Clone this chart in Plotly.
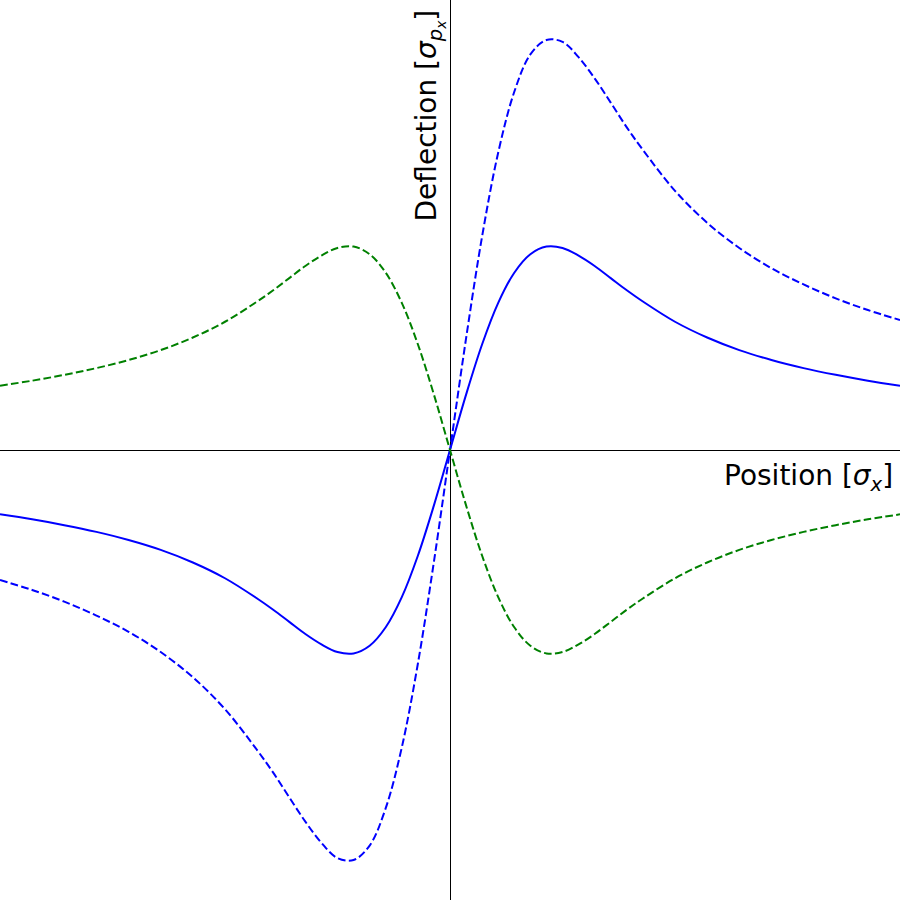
import plotly.graph_objects as go

# Position in units of sigma_x
position = [-7, -6.5, -6, -5.5, -5, -4.5, -4, -3.5, -3, -2.75, -2.5, -2.25, -2, -1.75, -1.5,
            -1.25, -1, -0.75, -0.5, -0.25, 0, 0.25, 0.5, 0.75, 1, 1.25, 1.5, 1.75, 2, 2.25,
            2.5, 2.75, 3, 3.5, 4, 4.5, 5, 5.5, 6, 6.5, 7]

# Deflection curves
deflection_solid = [-0.143, -0.154, -0.167, -0.182, -0.200, -0.222, -0.250, -0.285, -0.330, -0.355,
                    -0.382, -0.409, -0.432, -0.449, -0.452, -0.435, -0.394, -0.327, -0.235,
                    -0.123, 0.0, 0.123, 0.235, 0.327, 0.394, 0.435, 0.452, 0.449, 0.432, 0.409,
                    0.382, 0.355, 0.330, 0.285, 0.250, 0.222, 0.200, 0.182, 0.167, 0.154, 0.143]
deflection_dashed = [-0.289, -0.311, -0.337, -0.368, -0.404, -0.449, -0.505, -0.576, -0.667, -0.717,
                     -0.772, -0.826, -0.873, -0.907, -0.911, -0.879, -0.796, -0.661, -0.475,
                     -0.248, 0.0, 0.248, 0.475, 0.661, 0.796, 0.879, 0.911, 0.907, 0.873, 0.826,
                     0.772, 0.717, 0.667, 0.576, 0.505, 0.449, 0.404, 0.368, 0.337, 0.311, 0.289]
deflection_green = [0.143, 0.154, 0.167, 0.182, 0.200, 0.222, 0.250, 0.285, 0.330, 0.355,
                    0.382, 0.409, 0.432, 0.449, 0.452, 0.435, 0.394, 0.327, 0.235,
                    0.123, 0.0, -0.123, -0.235, -0.327, -0.394, -0.435, -0.452, -0.449, -0.432, -0.409,
                    -0.382, -0.355, -0.330, -0.285, -0.250, -0.222, -0.200, -0.182, -0.167, -0.154, -0.143]

DASH = "7.7px,3.3px"

fig = go.Figure()
fig.add_trace(go.Scatter(x=position, y=deflection_solid, mode="lines",
                         line=dict(color="#0000ff", width=2, shape="spline")))
fig.add_trace(go.Scatter(x=position, y=deflection_dashed, mode="lines",
                         line=dict(color="#0000ff", width=2, dash=DASH, shape="spline")))
fig.add_trace(go.Scatter(x=position, y=deflection_green, mode="lines",
                         line=dict(color="#008000", width=2, dash=DASH, shape="spline")))

axis_common = dict(showgrid=False, showticklabels=False, ticks="", zeroline=True,
                   zerolinecolor="black", zerolinewidth=1, showline=False, fixedrange=True)
fig.update_layout(
    width=900, height=900,
    margin=dict(l=0, r=0, t=0, b=0),
    paper_bgcolor="white", plot_bgcolor="white",
    showlegend=False,
    xaxis=dict(range=[-7, 7], **axis_common),
    yaxis=dict(range=[-1, 1], **axis_common),
    font=dict(family="DejaVu Sans", size=28, color="black"),
    annotations=[
        dict(text="Position [<i>σ</i><sub><i>x</i></sub>]", xref="paper", yref="paper",
             x=0.994, y=0.470, xanchor="right", yanchor="middle", showarrow=False,
             font=dict(size=28)),
        dict(text="Deflection [<i>σ</i><sub><i>p</i><sub><i>x</i></sub></sub>]", xref="paper", yref="paper",
             x=0.477, y=0.992, xanchor="center", yanchor="top", textangle=-90, showarrow=False,
             font=dict(size=28)),
    ],
)

fig.write_html("out.html", config={"displayModeBar": False},
               post_script="document.body.style.margin='0';document.body.style.overflow='hidden';")
